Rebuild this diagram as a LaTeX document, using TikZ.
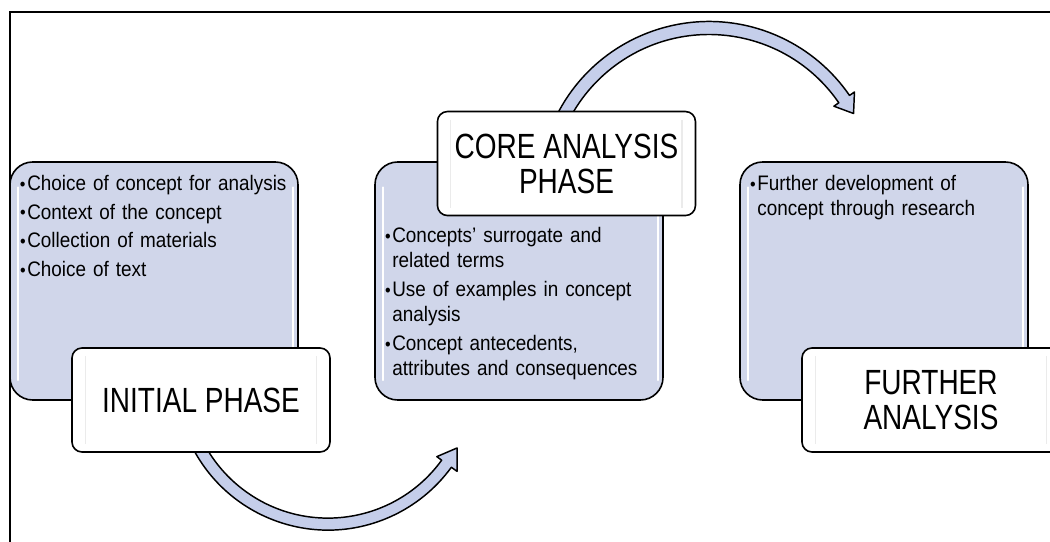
\documentclass[tikz,border=0pt]{standalone}
\usepackage{fontspec}
\setmainfont[FakeStretch=0.9]{Liberation Sans}
\newfontfamily\phasefont[FakeStretch=0.8]{Liberation Sans}
\usepackage{tikz}
\usetikzlibrary{positioning}
\definecolor{cardfill}{RGB}{208,214,234}
\definecolor{arrowfill}{RGB}{197,206,234}
\newcommand{\bitem}[1]{\parskip=3pt\hyphenpenalty=10000\hangindent=7pt\hangafter=1\noindent
  \makebox[7pt][l]{\kern1.5pt\scalebox{0.85}{\textbullet}}#1\par}
\tikzstyle{card} = [rectangle, draw, fill=cardfill, line width=1.2pt, rounded corners=17pt,
    text width=204pt, inner xsep=6pt, inner ysep=0pt, text height=21pt, text depth=157.5pt,
    align=left, font=\fontsize{15.75pt}{18.75pt}\selectfont,
    path picture={\draw[white, line width=1.6pt, line cap=round]
      ([shift={(6pt,-19pt)}]path picture bounding box.north west)
      -- ([shift={(6pt,15pt)}]path picture bounding box.south west)
      ([shift={(-4pt,-19pt)}]path picture bounding box.north east)
      -- ([shift={(-4pt,15pt)}]path picture bounding box.south east);}]
\tikzstyle{phase} = [rectangle, draw, fill=white, line width=1.2pt, rounded corners=7.5pt,
    minimum width=193.5pt, minimum height=78pt, align=center,
    font=\phasefont\fontsize{26.25pt}{26.25pt}\selectfont,
    path picture={\draw[black!8, line width=1pt]
      ([shift={(10pt,-6pt)}]path picture bounding box.north west)
      -- ([shift={(10pt,6pt)}]path picture bounding box.south west)
      ([shift={(-10pt,-6pt)}]path picture bounding box.north east)
      -- ([shift={(-10pt,6pt)}]path picture bounding box.south east);}]
\tikzstyle{curvearrow} = [draw, fill=arrowfill, line width=1.1pt, line join=round]

\begin{document}
\begin{tikzpicture}[x=0.75pt, y=-0.75pt, node distance=273.75pt]
  \useasboundingbox (0,0) rectangle (1050,542);
  \clip (0,0) rectangle (1050,542);
  \draw[line width=1.5pt] (10,542) -- (10,12) -- (1050,12);

  \node [card] (init) at (154,281)
    {\bitem{Choice of concept for analysis}\bitem{Context of the concept}%
     \bitem{Collection of materials}\bitem{Choice of text}};
  \node [card, right of=init, text height=60pt, text depth=118.5pt] (core)
    {\bitem{Concepts' surrogate and\newline related terms}%
     \bitem{Use of examples in concept\newline analysis}%
     \bitem{Concept antecedents,\newline attributes and consequences}};
  \node [card, right of=core] (more)
    {\bitem{Further development of\newline concept through research}};

  % curved arrows, under the phase boxes
  \begin{scope}[shift={(328,377.6)}]
    \draw [curvearrow] (156:152.5) arc[start angle=156, end angle=36, radius=152.5]
      -- (36:159.5) -- (28.6:147) -- (36:134.5) -- (36:140.5)
      arc[start angle=36, end angle=156, radius=140.5] -- cycle;
  \end{scope}
  \begin{scope}[shift={(709,192)}]
    \draw [curvearrow] (205:170.5) arc[start angle=205, end angle=325.5, radius=170.5]
      -- (325.5:176.5) -- (331.5:164.5) -- (325.5:151.5) -- (325.5:157.5)
      arc[start angle=325.5, end angle=205, radius=157.5] -- cycle;
  \end{scope}

  \node [phase, below of=init, xshift=35.25pt, node distance=89.25pt] (initph) {INITIAL PHASE};
  \node [phase, above of=core, xshift=35.6pt, node distance=88.1pt] (coreph) {CORE ANALYSIS\\PHASE};
  \node [phase, below of=more, xshift=35.25pt, node distance=89.25pt] (moreph) {FURTHER\\ANALYSIS};
\end{tikzpicture}
\end{document}
